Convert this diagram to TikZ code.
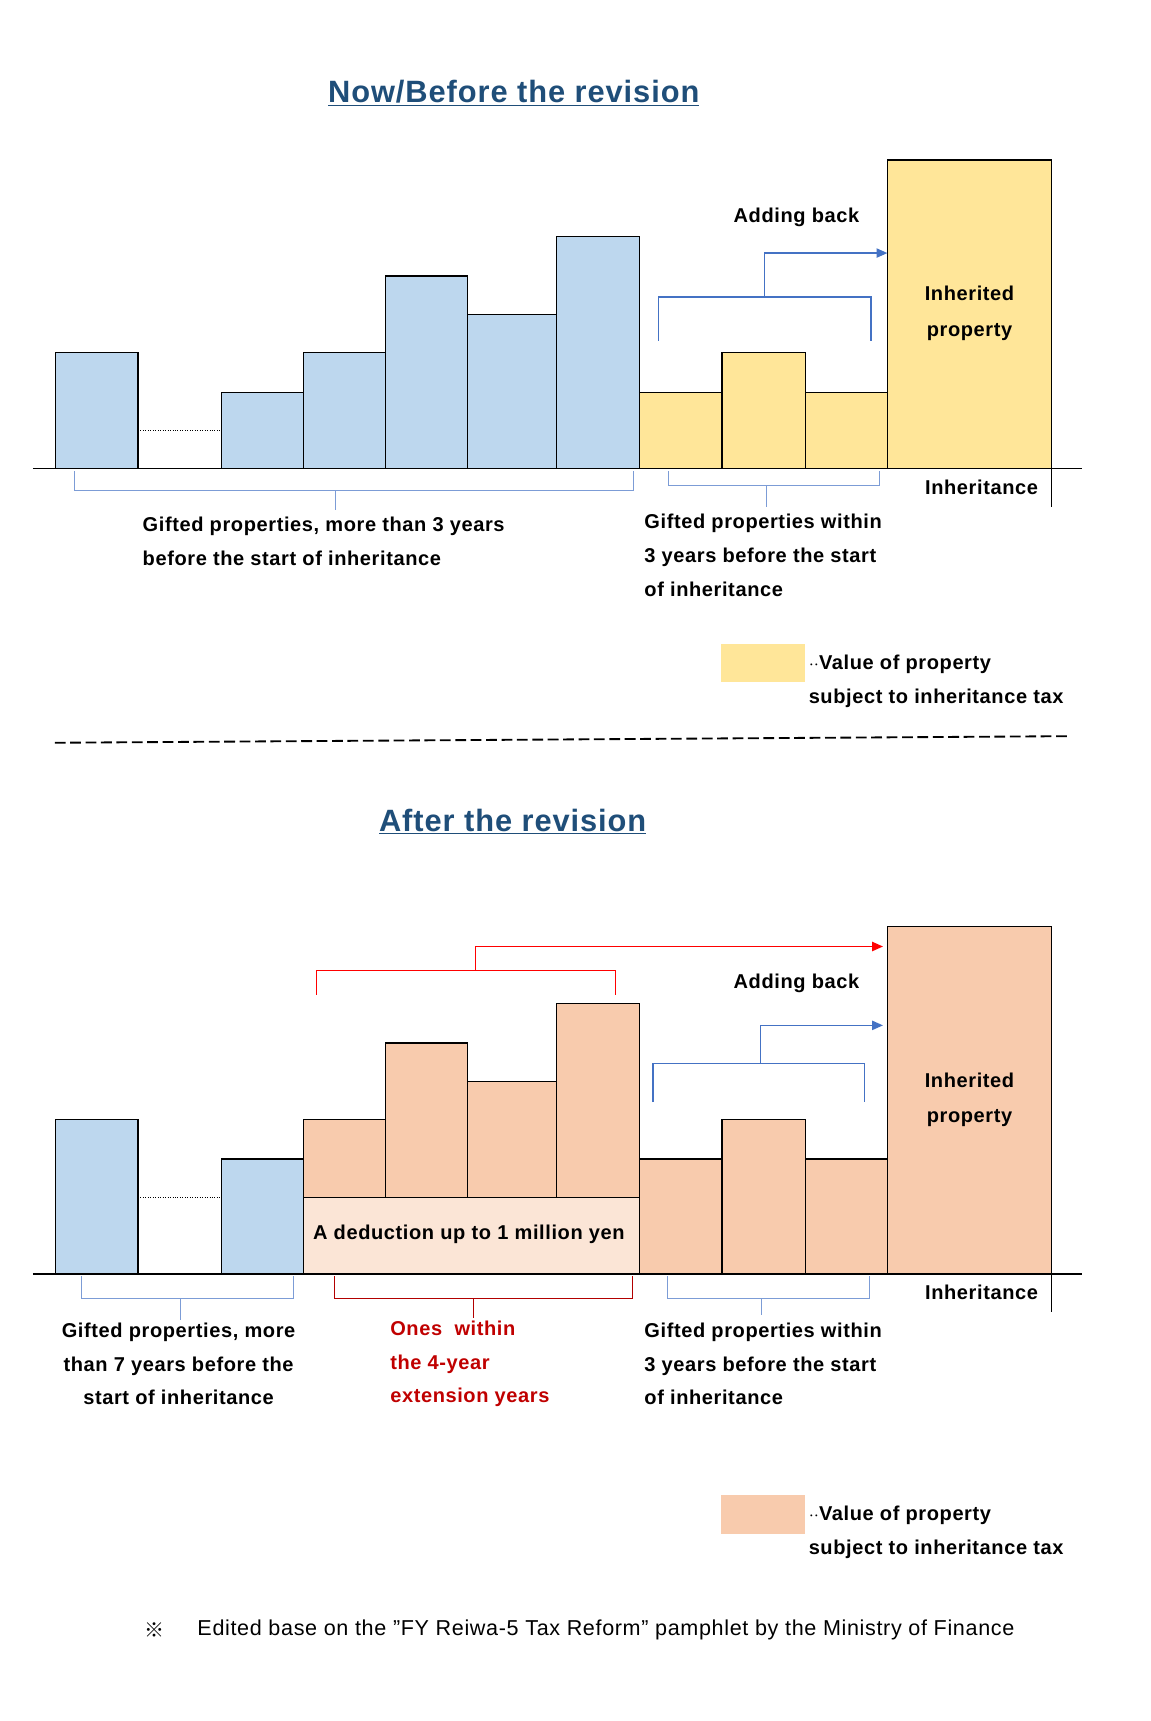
\documentclass[tikz,border=0pt]{standalone}
\usepackage{fontspec}
\setmainfont{Liberation Sans}[LetterSpace=3]
\newfontfamily\cjk{Noto Sans CJK JP}
\usetikzlibrary{arrows.meta}
\definecolor{barblue}{HTML}{BDD7EE}
\definecolor{baryellow}{HTML}{FFE699}
\definecolor{barorange}{HTML}{F8CBAD}
\definecolor{barlight}{HTML}{FBE5D6}
\definecolor{brblue}{HTML}{4472C4}
\definecolor{brred}{HTML}{FF0000}
\definecolor{txtred}{HTML}{C00000}
\definecolor{titleblue}{HTML}{1F4E79}
\tikzset{
  bar/.style={draw=black, line width=0.8pt},
  brk/.style={line width=0.9pt},
  lbl/.style={font=\fontsize{13}{15}\selectfont\bfseries, inner sep=0pt},
  ttl/.style={font=\fontsize{20}{24}\selectfont\bfseries, text=titleblue, inner sep=0pt},
  arr/.style={brk, -{Triangle[length=7pt,width=6pt]}}
}
\newcommand{\ulin}[1]{\underline{#1}}
\begin{document}
\begin{tikzpicture}[x=0.025cm, y=-0.025cm]
  \useasboundingbox[fill=white] (0,0) rectangle (1050,1571);

  % ---------- Now / before the revision ----------
  \node[ttl] (t1) at (469,85) {\ulin{Now/Before the revision}};

  \draw[bar, fill=barblue] (51,428) rectangle (126,322);
  \draw[densely dotted, line width=0.6pt] (126,393) -- (202,393);
  \draw[bar, fill=barblue] (202,428) rectangle (277,358);
  \draw[bar, fill=barblue] (277,428) rectangle (352,322);
  \draw[bar, fill=barblue] (352,428) rectangle (427,252);
  \draw[bar, fill=barblue] (427,428) rectangle (508,287);
  \draw[bar, fill=barblue] (508,428) rectangle (584,216);
  \draw[bar, fill=baryellow] (584,428) rectangle (659,358);
  \draw[bar, fill=baryellow] (659,428) rectangle (735,322);
  \draw[bar, fill=baryellow] (735,428) rectangle (810,358);
  \draw[bar, fill=baryellow] (810,428) rectangle (960,146);
  \node[lbl, align=center] (inh1) at (885,286) {Inherited\\[8pt]property};
  \draw[line width=0.8pt] (30,428) -- (988,428);
  \draw[line width=0.8pt] (960,146) -- (960,463);
  \node[lbl] (ib1) at (896,445) {Inheritance};

  % adding back
  \node[lbl] (ab1) at (727,198) {Adding back};
  \draw[brk, brblue] (601,311) -- (601,271) -- (795,271) -- (795,311);
  \coordinate (tip1) at (810,231);
  \draw[arr, brblue] (698,271) -- (698,231) -- (tip1);

  % under brackets
  \draw[brk, brblue!70, line width=0.7pt] (68,430) -- (68,448) -- (578,448) -- (578,430);
  \draw[brk, brblue!70, line width=0.7pt] (306,448) -- (306,466);
  \draw[brk, brblue!70, line width=0.7pt] (610,430) -- (610,443) -- (803,443) -- (803,430);
  \draw[brk, brblue!70, line width=0.7pt] (700,443) -- (700,463);
  \node[lbl, anchor=west, align=left] (g1) at (130,494)
    {Gifted properties, more than 3 years\\[7pt]before the start of inheritance};
  \node[lbl, anchor=west, align=left] (g2) at (588,507)
    {Gifted properties within\\[7pt]3 years before the start\\[7pt]of inheritance};

  % legend
  \fill[baryellow] (658,588) rectangle (735,623);
  \node[lbl, anchor=west, align=left] (lg1) at (738,622)
    {$\cdot\cdot$Value of property\\[7pt]subject to inheritance tax};

  \draw[dashed, line width=1.2pt, dash pattern=on 7pt off 3pt] (50,678) -- (975,672);

  % ---------- After the revision ----------
  \node[ttl] (t2) at (468,750) {\ulin{After the revision}};

  \draw[bar, fill=barblue] (51,1163) rectangle (126,1022);
  \draw[densely dotted, line width=0.6pt] (126,1093) -- (202,1093);
  \draw[bar, fill=barblue] (202,1163) rectangle (277,1058);
  \draw[bar, fill=barorange] (277,1093) rectangle (352,1022);
  \draw[bar, fill=barorange] (352,1093) rectangle (427,952);
  \draw[bar, fill=barorange] (427,1093) rectangle (508,987);
  \draw[bar, fill=barorange] (508,1093) rectangle (584,916);
  \draw[bar, fill=barlight] (277,1163) rectangle (584,1093);
  \node[lbl] (ded) at (428,1127) {A deduction up to 1 million yen};
  \draw[bar, fill=barorange] (584,1163) rectangle (659,1058);
  \draw[bar, fill=barorange] (659,1163) rectangle (735,1022);
  \draw[bar, fill=barorange] (735,1163) rectangle (810,1058);
  \draw[bar, fill=barorange] (810,1163) rectangle (960,846);
  \node[lbl, align=center] (inh2) at (885,1004) {Inherited\\[8pt]property};
  \draw[line width=0.8pt] (30,1163) -- (988,1163);
  \draw[line width=0.8pt] (960,846) -- (960,1198);
  \node[lbl] (ib2) at (896,1180) {Inheritance};

  % adding back
  \node[lbl] (ab2) at (727,898) {Adding back};
  \draw[brk, brred] (289,908) -- (289,886) -- (562,886) -- (562,908);
  \coordinate (tip2) at (806,864);
  \draw[arr, brred] (434,886) -- (434,864) -- (tip2);
  \draw[brk, brblue] (596,1006) -- (596,971) -- (789,971) -- (789,1006);
  \coordinate (tip3) at (806,936);
  \draw[arr, brblue] (694,971) -- (694,936) -- (tip3);

  % under brackets
  \draw[brk, brblue!70, line width=0.7pt] (74,1165) -- (74,1185) -- (268,1185) -- (268,1165);
  \draw[brk, brblue!70, line width=0.7pt] (165,1185) -- (165,1205);
  \draw[brk, brred!70!black, line width=0.7pt] (305,1165) -- (305,1185) -- (577,1185) -- (577,1165);
  \draw[brk, brred!70!black, line width=0.7pt] (432,1185) -- (432,1203);
  \draw[brk, brblue!70, line width=0.7pt] (609,1165) -- (609,1185) -- (794,1185) -- (794,1165);
  \draw[brk, brblue!70, line width=0.7pt] (695,1185) -- (695,1200);
  \node[lbl, align=center] (g3) at (163,1245)
    {Gifted properties, more\\[7pt]than 7 years before the\\[7pt]start of inheritance};
  \node[lbl, anchor=west, align=left, text=txtred] (g4) at (356,1245)
    {Ones~~within\\[7pt]the 4-year\\[7pt]extension years};
  \node[lbl, anchor=west, align=left] (g5) at (588,1245)
    {Gifted properties within\\[7pt]3 years before the start\\[7pt]of inheritance};

  % legend
  \fill[barorange] (658,1365) rectangle (735,1400);
  \node[lbl, anchor=west, align=left] (lg2) at (738,1399)
    {$\cdot\cdot$Value of property\\[7pt]subject to inheritance tax};

  % footnote
  \node[inner sep=0pt, font=\fontsize{13}{15}\selectfont\cjk] (nt) at (141,1488) {※};
  \node[anchor=west, inner sep=0pt, font=\fontsize{14}{15}\selectfont] (ft) at (180,1488)
    {Edited base on the "FY Reiwa-5 Tax Reform" pamphlet by the Ministry of Finance};
\end{tikzpicture}
\end{document}
